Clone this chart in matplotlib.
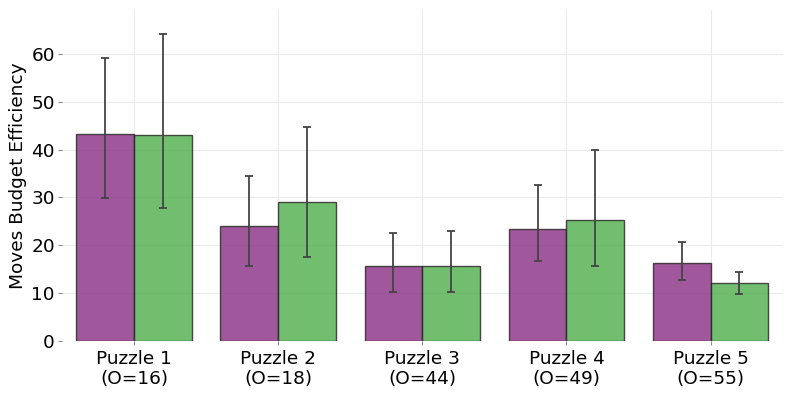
import matplotlib
matplotlib.use("Agg")
import matplotlib.pyplot as plt
import numpy as np

categories = ["Puzzle 1\n(O=16)", "Puzzle 2\n(O=18)", "Puzzle 3\n(O=44)", "Puzzle 4\n(O=49)", "Puzzle 5\n(O=55)"]
purple_vals = [43.2, 24.1, 15.6, 23.3, 16.3]
purple_hi = [59.3, 34.4, 22.5, 32.6, 20.6]
purple_lo = [29.8, 15.7, 10.2, 16.7, 12.6]
green_vals = [43.0, 29.0, 15.7, 25.2, 12.1]
green_hi = [64.2, 44.8, 23.0, 39.9, 14.4]
green_lo = [27.8, 17.6, 10.2, 15.6, 9.8]

fig, ax = plt.subplots(figsize=(7.93, 3.97), dpi=100)
x = np.arange(len(categories))
w = 0.4
pv = np.array(purple_vals); gv = np.array(green_vals)
perr = [pv - np.array(purple_lo), np.array(purple_hi) - pv]
gerr = [gv - np.array(green_lo), np.array(green_hi) - gv]

ax.bar(x - w/2, pv, w, color="#8a2d84", alpha=0.8, edgecolor="#222222", linewidth=1.0,
       yerr=perr, capsize=3, error_kw=dict(ecolor="#444444", elinewidth=1.3, capthick=1.3), zorder=2)
ax.bar(x + w/2, gv, w, color="#4daf4a", alpha=0.8, edgecolor="#222222", linewidth=1.0,
       yerr=gerr, capsize=3, error_kw=dict(ecolor="#444444", elinewidth=1.3, capthick=1.3), zorder=2)

ax.set_xticks(x)
ax.set_xticklabels(categories, fontsize=13.3)
ax.tick_params(axis="y", labelsize=13.3, color="#888888", length=3, pad=2)
ax.tick_params(axis="x", color="#888888", length=3)
ax.set_ylabel("Moves Budget Efficiency", fontsize=13.3, labelpad=3)
ax.set_xlim(-0.5, 4.5)
ax.set_ylim(0, 69.3)
ax.set_yticks([0, 10, 20, 30, 40, 50, 60])
ax.grid(True, color="#ebebeb", linewidth=0.8, zorder=0)
ax.set_axisbelow(True)
for s in ax.spines.values():
    s.set_visible(False)

fig.subplots_adjust(left=0.078, right=0.987, top=0.975, bottom=0.142)
fig.savefig("out.png", dpi=100)
